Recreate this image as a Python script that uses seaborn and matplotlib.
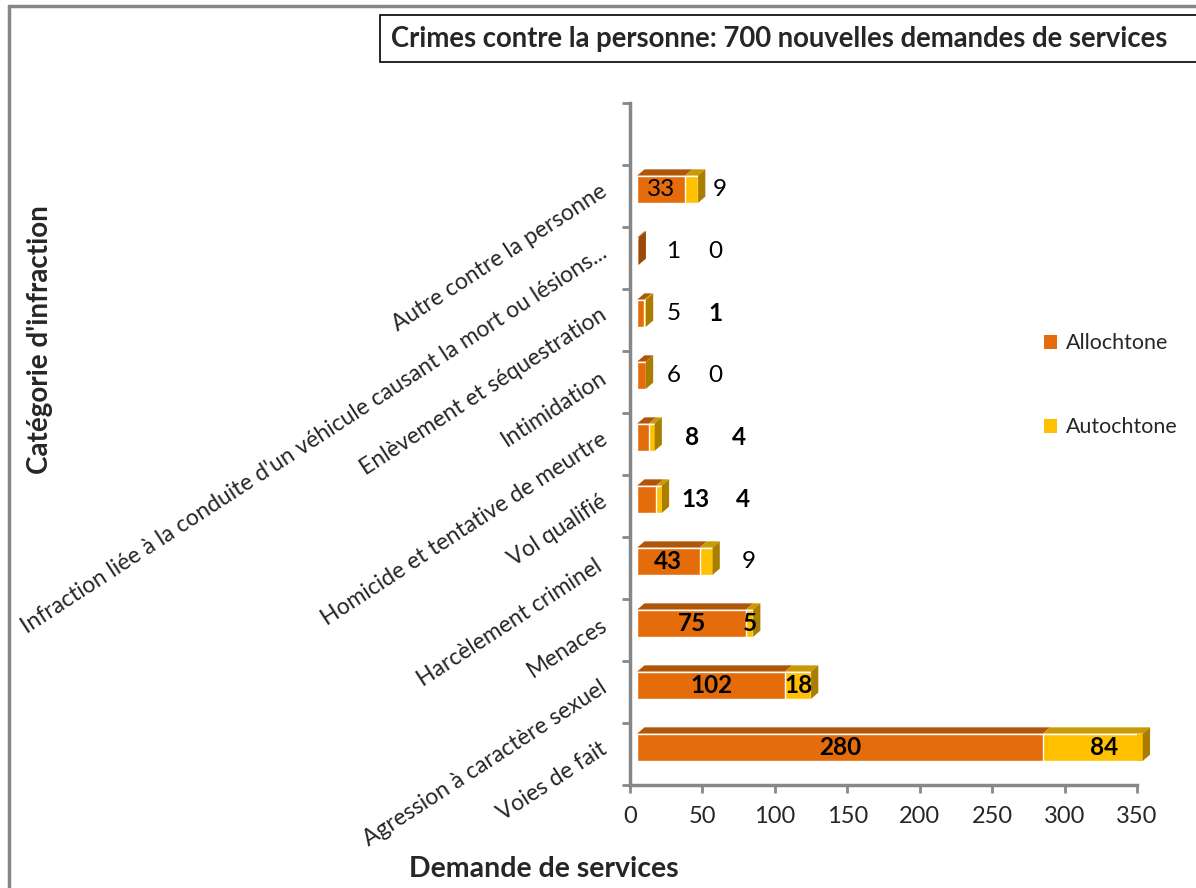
import numpy as np
import pandas as pd
import matplotlib
matplotlib.use("Agg")
import matplotlib.pyplot as plt
from matplotlib.patches import Polygon, Rectangle, Patch
from matplotlib.lines import Line2D
import seaborn as sns

# ---------------- data ----------------
categories = [
    "Autre contre la personne",
    "Infraction liée à la conduite d'un véhicule causant la mort ou lésions...",
    "Enlèvement et séquestration",
    "Intimidation",
    "Homicide et tentative de meurtre",
    "Vol qualifié",
    "Harcèlement criminel ",
    "Menaces",
    "Agression à caractère sexuel",
    "Voies de fait",
]
allochtone = [33, 1, 5, 6, 8, 13, 43, 75, 102, 280]
autochtone = [9, 0, 1, 0, 4, 4, 9, 5, 18, 84]
series_names = ["Allochtone", "Autochtone"]
x_ticks = [0, 50, 100, 150, 200, 250, 300, 350]
title = "Crimes contre la personne: 700 nouvelles demandes de services"
xlabel = "Demande de services"
ylabel = "Catégorie d'infraction"

# label placement overrides (offset from bar start, data units) where labels were moved aside
label_x_allo = {1: 25, 2: 25, 3: 25, 4: 38, 5: 40}
label_x_auto = {0: 57, 1: 54, 2: 54, 3: 54, 4: 70, 5: 73, 6: 77}

# ---------------- style ----------------
sns.set_theme(style="white")
plt.rcParams["font.family"] = ["Lato", "DejaVu Sans"]

C_OR = "#E46C0A"
C_OR_TOP = "#B0560B"
C_OR_SIDE = "#9A4A08"
C_YE = "#FFC000"
C_YE_TOP = "#C99A05"
C_YE_SIDE = "#A87D00"
AXIS_C = "#878787"

df = pd.DataFrame({
    "cat": categories,
    "allo": allochtone,
    "auto": autochtone,
})
df["total"] = df["allo"] + df["auto"]

W, H = 1196, 888
fig = plt.figure(figsize=(W / 100, H / 100), dpi=100)
ax = fig.add_axes([630 / W, 1 - 785 / H, (1137 - 630) / W, (785 - 103) / H])

bar_h = 0.44
sns.barplot(data=df, x="total", y="cat", orient="h", color=C_YE,
            width=bar_h, saturation=1, ax=ax, order=categories)
sns.barplot(data=df, x="allo", y="cat", orient="h", color=C_OR,
            width=bar_h, saturation=1, ax=ax, order=categories)

XMAX = 350
dx, dy = 5.0, 0.10   # 3D depth
# push front faces forward by the depth, as in the 3D original
for p in ax.patches:
    p.set_x(p.get_x() + dx)

ax.set_xlim(0, XMAX)
yshift = 0.11
ax.set_ylim(9.5 + yshift, -1.5 + yshift)

# 3D faces derived from the data
for i, (a, b) in enumerate(zip(allochtone, autochtone)):
    t = a + b
    vis = min(t + dx, XMAX + 4)
    va = min(a + dx, XMAX + 4)
    top = i - bar_h / 2
    bot = i + bar_h / 2
    ax.add_patch(Polygon([(dx, top), (2 * dx, top - dy), (va + dx, top - dy), (va, top)],
                         closed=True, facecolor=C_OR_TOP, edgecolor="none",
                         clip_on=False, zorder=3))
    if b > 0:
        ax.add_patch(Polygon([(va, top), (va + dx, top - dy), (vis + dx, top - dy), (vis, top)],
                             closed=True, facecolor=C_YE_TOP, edgecolor="none",
                             clip_on=False, zorder=3))
        if t + dx > XMAX:
            # front face continues to where the original clipped it
            ax.add_patch(Rectangle((XMAX, top), vis - XMAX, bar_h, facecolor=C_YE,
                                   edgecolor="none", clip_on=False, zorder=2))
    side_c = C_YE_SIDE if (b > 0 or i == 3) else C_OR_SIDE
    ax.add_patch(Polygon([(vis, top), (vis + dx, top - dy), (vis + dx, bot - dy), (vis, bot)],
                         closed=True, facecolor=side_c, edgecolor="none",
                         clip_on=False, zorder=3))

# data labels
regular = {("a", 0), ("a", 1), ("b", 1), ("a", 2), ("a", 3), ("b", 3), ("b", 0), ("b", 6)}
for i, (a, b) in enumerate(zip(allochtone, autochtone)):
    xa = dx + label_x_allo.get(i, a / 2)
    xb = dx + label_x_auto.get(i, a + b / 2)
    ax.text(xa, i, str(a), ha="center", va="center", fontsize=17.5,
            fontweight="normal" if ("a", i) in regular else "bold", color="black", zorder=5)
    ax.text(xb, i, str(b), ha="center", va="center", fontsize=17.5,
            fontweight="normal" if ("b", i) in regular else "bold", color="black", zorder=5)

# axes styling
for s in ["top", "right"]:
    ax.spines[s].set_visible(False)
for s in ["left", "bottom"]:
    ax.spines[s].set_color(AXIS_C)
    ax.spines[s].set_linewidth(2.5)

ax.set_xticks(x_ticks)
ax.set_xticklabels([str(v) for v in x_ticks], fontsize=17)
ax.tick_params(axis="x", direction="out", length=6, width=2, color=AXIS_C, pad=9, bottom=True)

ax.set_yticks(range(len(categories)))
ax.set_yticklabels(categories, fontsize=16.5, rotation=33, rotation_mode="anchor",
                   ha="right", va="center")
ax.tick_params(axis="y", which="major", length=0, pad=18)
ax.set_yticks(np.arange(-1.5, 10.0, 1.0) + yshift, minor=True)
ax.tick_params(axis="y", which="minor", direction="out", length=6, width=2,
               color=AXIS_C, left=True)
ax.set_xlabel("")
ax.set_ylabel("")
ax.grid(False)

# legend
handles = [Patch(facecolor=C_OR, edgecolor="none"), Patch(facecolor=C_YE, edgecolor="none")]
fig.legend(handles, series_names, loc="upper left", bbox_to_anchor=(1025 / W, 1 - 314 / H),
           frameon=False, fontsize=15.4, handlelength=0.6, handleheight=0.6,
           handletextpad=0.4, labelspacing=3.0)

# titles
fig.add_artist(Rectangle((380 / W, 1 - 62 / H), (W + 10 - 380) / W, 47 / H,
                         transform=fig.transFigure, facecolor="white",
                         edgecolor="black", linewidth=1.2, clip_on=False))
fig.text(391 / W, 1 - 39 / H, title, ha="left", va="center", fontsize=19.8,
         fontweight="bold")
fig.text(40 / W, 1 - 340 / H, ylabel, rotation=90, ha="center", va="center",
         fontsize=20, fontweight="bold")
fig.text(544 / W, 1 - 869 / H, xlabel, ha="center", va="center", fontsize=20.5,
         fontweight="bold")

# outer frame (left and top)
fig.add_artist(Line2D([9 / W, 9 / W], [0, 1 - 6 / H], transform=fig.transFigure,
                      color=AXIS_C, linewidth=2.5))
fig.add_artist(Line2D([9 / W, 1], [1 - 6 / H, 1 - 6 / H], transform=fig.transFigure,
                      color=AXIS_C, linewidth=2.5))

fig.savefig("out.png", dpi=100)
